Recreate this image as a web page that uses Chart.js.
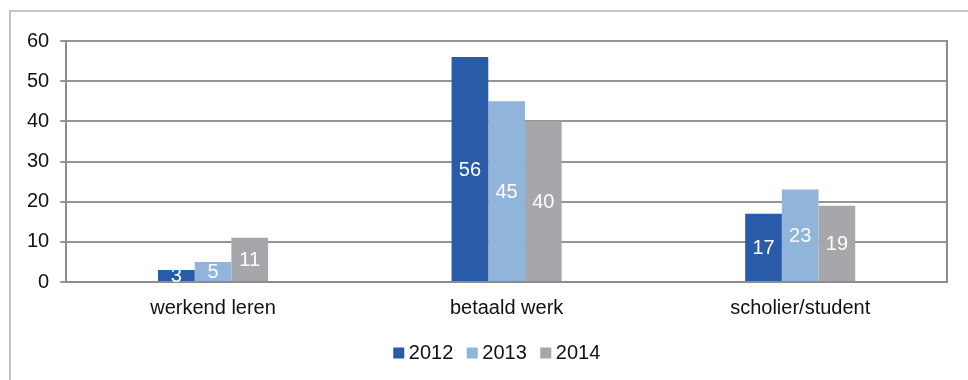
<!DOCTYPE html>
<html>
<head>
<meta charset="utf-8">
<script src="https://cdn.jsdelivr.net/npm/chart.js@4/dist/chart.umd.min.js"></script>
<style>
  html, body { margin: 0; padding: 0; background: #fff; overflow: hidden; }
  #frame { position: absolute; left: 9px; top: 10px; width: 2000px; height: 2000px; border: 2px solid #c4c4c4; box-sizing: border-box; }
  #wrap { position: absolute; left: 0; top: 0; width: 968px; height: 380px; }
</style>
</head>
<body>
<div id="frame"></div>
<div id="wrap"><canvas id="c" width="968" height="380"></canvas></div>
<script>
const categories = ["werkend leren", "betaald werk", "scholier/student"];
const seriesNames = ["2012", "2013", "2014"];
const values2012 = [3, 56, 17];
const values2013 = [5, 45, 23];
const values2014 = [11, 40, 19];
const yTicks = [0, 10, 20, 30, 40, 50, 60];
const colors = ["#2a5ba8", "#91b4db", "#a6a7aa"];

const FONT = "'Liberation Sans', Arial, sans-serif";

const valueLabels = {
  id: 'valueLabels',
  afterDatasetsDraw(chart) {
    const ctx = chart.ctx;
    ctx.save();
    ctx.font = "20px " + FONT;
    ctx.fillStyle = "#ffffff";
    ctx.textAlign = "center";
    ctx.textBaseline = "middle";
    chart.data.datasets.forEach((ds, i) => {
      const meta = chart.getDatasetMeta(i);
      meta.data.forEach((el, j) => {
        ctx.fillText(String(ds.data[j]), el.x, (el.y + el.base) / 2 + 1);
      });
    });
    ctx.restore();
  }
};

const rightFrame = {
  id: 'rightFrame',
  afterDraw(chart) {
    const { ctx, chartArea } = chart;
    ctx.save();
    ctx.strokeStyle = "#8c8c8c";
    ctx.lineWidth = 2;
    ctx.beginPath();
    ctx.moveTo(chartArea.right, chartArea.top - 1);
    ctx.lineTo(chartArea.right, chartArea.bottom);
    ctx.stroke();
    ctx.restore();
  }
};

// nudge the legend horizontally to sit where the reference places it
const legendShift = {
  id: 'legendShift',
  afterLayout(chart) {
    if (chart.legend) {
      chart.legend.left += 18;
      chart.legend.right += 18;
    }
  }
};

new Chart(document.getElementById('c'), {
  type: 'bar',
  data: {
    labels: categories,
    datasets: [
      { label: seriesNames[0], data: values2012, backgroundColor: colors[0], borderColor: colors[0], borderWidth: 0 },
      { label: seriesNames[1], data: values2013, backgroundColor: colors[1], borderColor: colors[1], borderWidth: 0 },
      { label: seriesNames[2], data: values2014, backgroundColor: colors[2], borderColor: colors[2], borderWidth: 0 }
    ]
  },
  options: {
    responsive: false,
    animation: false,
    devicePixelRatio: 1,
    layout: { padding: { left: 16, right: 21, top: 41, bottom: 7 } },
    datasets: { bar: { categoryPercentage: 0.375, barPercentage: 1.0 } },
    scales: {
      x: {
        grid: { display: false, drawTicks: false },
        border: { display: true, color: "#8c8c8c", width: 2 },
        afterFit(axis) { axis.height -= 10; },
        ticks: { color: "#111", font: { family: FONT, size: 20 }, padding: 14 }
      },
      y: {
        min: 0, max: 60,
        afterBuildTicks(axis) { axis.ticks = yTicks.map(v => ({ value: v })); },
        grid: { color: "#959595", lineWidth: 2, tickLength: 6, drawTicks: true },
        border: { display: true, color: "#8c8c8c", width: 2 },
        ticks: { color: "#111", font: { family: FONT, size: 20 }, padding: 11 }
      }
    },
    plugins: {
      legend: {
        position: 'bottom',
        labels: {
          usePointStyle: true, pointStyle: 'rect',
          boxWidth: 0.01, boxHeight: 11, padding: 19,
          color: "#111", font: { family: FONT, size: 20 }
        }
      },
      tooltip: { enabled: false }
    }
  },
  plugins: [valueLabels, rightFrame, legendShift]
});
</script>
</body>
</html>
